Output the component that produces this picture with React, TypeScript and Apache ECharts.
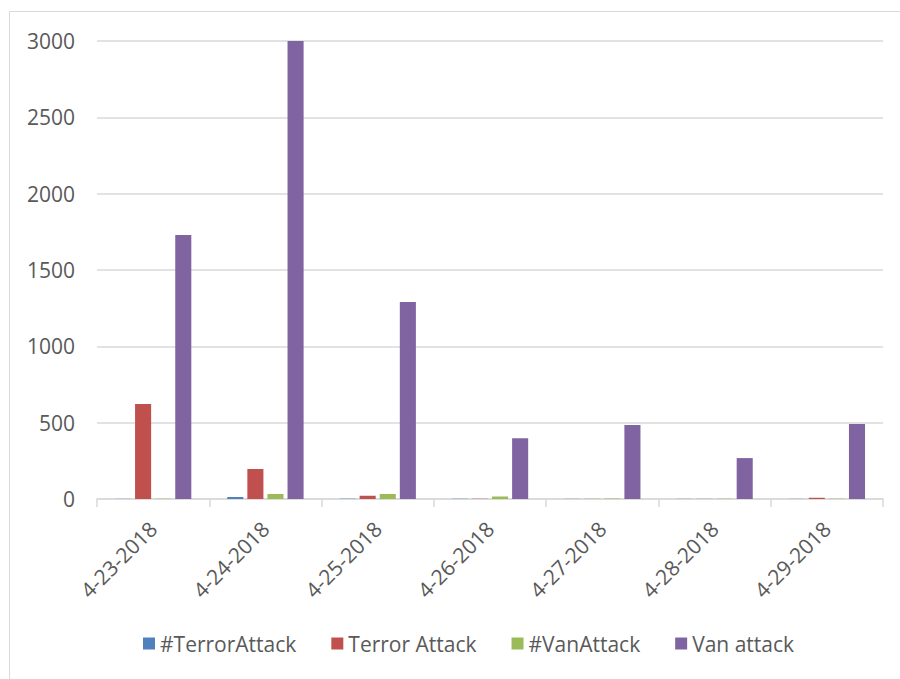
import React, { useEffect, useRef } from "react";
import * as echarts from "echarts";

const categories = ["4-23-2018", "4-24-2018", "4-25-2018", "4-26-2018", "4-27-2018", "4-28-2018", "4-29-2018"];
const hashTerrorAttack = [1, 13, 2, 1, 1, 1, 1];
const terrorAttack = [622, 196, 22, 2, 1, 1, 8];
const hashVanAttack = [2, 33, 33, 16, 3, 2, 2];
const vanAttack = [1729, 3010, 1290, 398, 485, 268, 491];
const yTicks = [0, 500, 1000, 1500, 2000, 2500, 3000];

const FONT = "'Open Sans', 'Noto Sans', sans-serif";

export default function App() {
  const ref = useRef<HTMLDivElement>(null);
  useEffect(() => {
    if (!ref.current) return;
    const chart = echarts.init(ref.current, null, { renderer: "svg" });
    const mk = (name: string, data: number[], color: string) => ({
      name,
      type: "bar",
      data,
      itemStyle: { color },
      barGap: "25%",
      barCategoryGap: "32%",
    });
    chart.setOption({
      animation: false,
      backgroundColor: "#ffffff",
      textStyle: { fontFamily: FONT },
      graphic: [
        {
          type: "rect",
          shape: { x: 9.5, y: 11.5, width: 900, height: 700 },
          style: { fill: "none", stroke: "#d9d9d9", lineWidth: 1 },
          silent: true,
        },
      ],
      grid: { left: 97, right: 17, top: 41, bottom: 180, containLabel: false },
      legend: {
        bottom: 20,
        left: 138,
        itemWidth: 12,
        itemHeight: 12,
        itemGap: 35,
        icon: "rect",
        textStyle: { fontSize: 21, color: "#595959", fontFamily: FONT },
        data: ["#TerrorAttack", "Terror Attack", "#VanAttack", "Van attack"],
      },
      xAxis: {
        type: "category",
        data: categories,
        axisLine: { lineStyle: { color: "#d9d9d9", width: 1.5 } },
        axisTick: { show: true, length: 8, lineStyle: { color: "#d9d9d9", width: 1.5 } },
        axisLabel: {
          rotate: 45,
          fontSize: 21,
          color: "#595959",
          margin: 26,
          fontFamily: FONT,
        },
      },
      yAxis: {
        type: "value",
        min: yTicks[0],
        max: yTicks[yTicks.length - 1],
        interval: 500,
        axisLine: { show: false },
        axisTick: { show: false },
        splitLine: { lineStyle: { color: "#d9d9d9", width: 1.5 } },
        axisLabel: {
          fontSize: 21,
          color: "#595959",
          margin: 22,
          fontFamily: FONT,
          formatter: (v: number) => String(v),
        },
      },
      series: [
        mk("#TerrorAttack", hashTerrorAttack, "#4F81BD"),
        mk("Terror Attack", terrorAttack, "#C0504D"),
        mk("#VanAttack", hashVanAttack, "#9BBB59"),
        mk("Van attack", vanAttack, "#8064A2"),
      ],
    });
    return () => chart.dispose();
  }, []);
  return (
    <div
      ref={ref}
      style={{ position: "fixed", left: 0, top: 0, width: 900, height: 679, background: "#fff" }}
    />
  );
}
